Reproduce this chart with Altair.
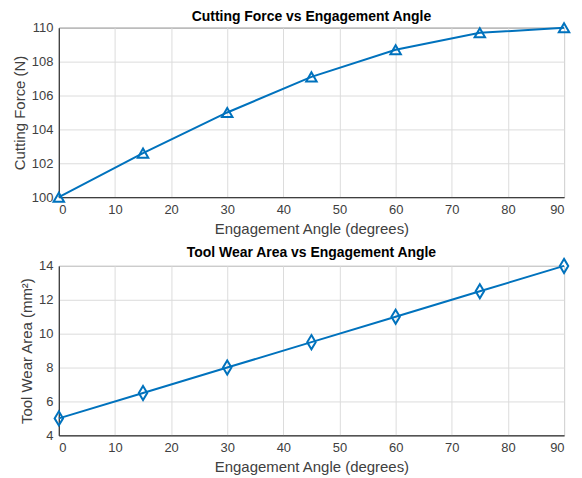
import altair as alt
import pandas as pd

angles = [0, 15, 30, 45, 60, 75, 90]
force = [100.0, 102.6, 105.0, 107.1, 108.7, 109.7, 110.0]
wear = [5.0, 6.5, 8.0, 9.5, 11.0, 12.5, 14.0]

df = pd.DataFrame({"angle": angles, "force": force, "wear": wear})

BLUE = "#0072BD"
W, H = 507, 170

def panel(col, title, ytitle, ydom, ystep, shape, size):
    x = alt.X("angle:Q", title="Engagement Angle (degrees)",
              scale=alt.Scale(domain=[0, 90], nice=False),
              axis=alt.Axis(values=list(range(0, 91, 10))))
    y = alt.Y(f"{col}:Q", title=ytitle,
              scale=alt.Scale(domain=ydom, nice=False),
              axis=alt.Axis(values=list(range(ydom[0], ydom[1] + 1, ystep))))
    base = alt.Chart(df).encode(x=x, y=y)
    line = base.mark_line(color=BLUE, strokeWidth=2, clip=False)
    pts = base.mark_point(shape=shape, filled=False, color=BLUE, size=size,
                          strokeWidth=2, opacity=1, clip=False)
    return alt.layer(line, pts).properties(
        width=W, height=H,
        title=alt.TitleParams(title, fontSize=14, fontWeight="bold",
                              color="#000000", offset=-5, font="Liberation Sans"))

top = panel("force", "Cutting Force vs Engagement Angle", "Cutting Force (N)",
            [100, 110], 2, "triangle-up", 110)
bot = panel("wear", "Tool Wear Area vs Engagement Angle", "Tool Wear Area (mm²)",
            [4, 14], 2, "M0,-1L0.6,0L0,1L-0.6,0Z", 200)

chart = alt.vconcat(top, bot, spacing=8).properties(
    padding={"left": 3, "top": 0, "right": 0, "bottom": 0}
).configure_view(
    stroke="#262626", strokeWidth=1
).configure_axis(
    labelFont="Liberation Sans", titleFont="Liberation Sans",
    labelFontSize=13, titleFontSize=15, labelColor="#404040",
    titleColor="#404040", titleFontWeight="normal",
    domainColor="#262626", ticks=False, gridColor="#dcdcdc", grid=True,
    labelPadding=6, titlePadding=5
).configure_axisY(
    titlePadding=4
).configure_title(anchor="middle")

chart.save("out.html", embed_options={"renderer": "svg", "actions": False})
